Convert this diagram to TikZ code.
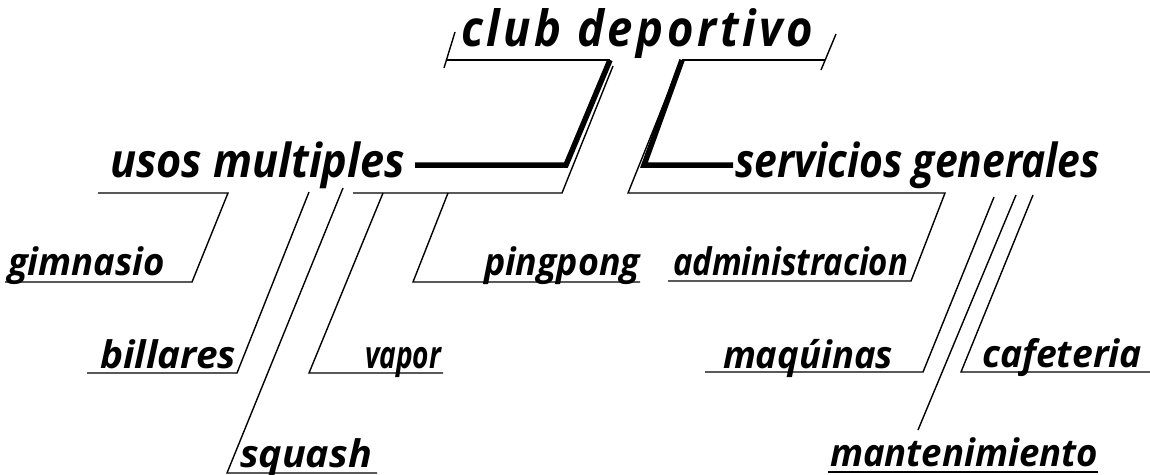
\documentclass[tikz,border=0pt]{standalone}
\usepackage{fontspec}
\setmainfont{Open Sans}
\usepackage{graphicx}
\newcommand\fitw[2]{\resizebox{#1}{\height}{#2}}
\begin{document}
\begin{tikzpicture}[x=1pt,y=-1pt,
  ln/.style={line width=1.4pt, line join=miter},
  heavy/.style={line width=5.5pt, line join=miter},
  lab/.style={anchor=base west, inner sep=0pt, outer sep=0pt, font=\bfseries\itshape},
  big/.style={lab, font=\bfseries\itshape\fontsize{47}{47}\selectfont},
  small/.style={lab, font=\bfseries\itshape\fontsize{38}{38}\selectfont}]
\useasboundingbox (0,0) rectangle (1150,474);

% ---------- labels ----------
\node[lab, font=\bfseries\itshape\fontsize{50}{50}\selectfont] (club) at (461,46) {\fitw{352pt}{\addfontfeature{LetterSpace=8}club deportivo}};
\node[big] (usos) at (110,177) {\fitw{295pt}{usos multiples}};
\node[big] (serv) at (735,177) {\fitw{365pt}{servicios generales}};
\node[small] (gim) at (8,275) {\fitw{157pt}{gimnasio}};
\node[small] (bill) at (100,368) {\fitw{136pt}{billares}};
\node[small] (squa) at (240,467) {\fitw{132pt}{squash}};
\node[small] (vap) at (365,368) {\fitw{76pt}{vapor}};
\node[small] (ping) at (484,275) {\fitw{156pt}{pingpong}};
\node[small] (adm) at (673,275) {\fitw{235pt}{administracion}};
\node[small] (maq) at (723,368) {\fitw{170pt}{maqúinas}};
\node[small] (caf) at (982,367) {\fitw{160pt}{cafeteria}};
\node[small] (mant) at (830,466) {\fitw{268pt}{mantenimiento}};

% ---------- points ----------
\coordinate (cuL) at (447,60);  \coordinate (cuM) at (610,60);
\coordinate (cuN) at (682,60);  \coordinate (cuR) at (825,60);
\coordinate (tL1) at (444,68);  \coordinate (tL2) at (455,32);
\coordinate (tR1) at (821,70);  \coordinate (tR2) at (836,34);
\coordinate (k2) at (566,165);  \coordinate (k3) at (415,165);
\coordinate (m1) at (613,66);   \coordinate (m2) at (562,193);  \coordinate (m3) at (353,193);
\coordinate (v1) at (383,193);  \coordinate (v2) at (309,373);  \coordinate (v3) at (443,373);
\coordinate (p1) at (448,193);  \coordinate (p2) at (413,282);  \coordinate (p3) at (640,282);
\coordinate (g1) at (98,193);   \coordinate (g2) at (228,193);  \coordinate (g3) at (192,282);  \coordinate (g4) at (5,282);
\coordinate (b1) at (309,192);  \coordinate (b2) at (237,373);  \coordinate (b3) at (87,373);
\coordinate (s1) at (343,188);  \coordinate (s2) at (227,473);  \coordinate (s3) at (377,473);
\coordinate (r2) at (644,165);  \coordinate (r3) at (733,165);
\coordinate (n1) at (679,66);   \coordinate (n2) at (628,193);  \coordinate (n3) at (945,193);
\coordinate (n4) at (911,281);  \coordinate (n5) at (668,281);
\coordinate (q1) at (994,197);  \coordinate (q2) at (923,372);  \coordinate (q3) at (705,372);
\coordinate (t1) at (1016,195); \coordinate (t2) at (918,430);
\coordinate (t3) at (828,472);  \coordinate (t4) at (1098,472);
\coordinate (c1) at (1033,195); \coordinate (c2) at (961,372);  \coordinate (c3) at (1150,372);

% ---------- title underline ----------
\draw[ln] (cuL) -- (cuM);
\draw[ln] (cuN) -- (cuR);
\draw[ln] (tL1) -- (tL2);
\draw[ln] (tR1) -- (tR2);

% ---------- heavy links ----------
\draw[heavy] (cuM) -- (k2) -- (k3);
\draw[heavy] (cuN) -- (r2) -- (r3);

% ---------- left branch ----------
\draw[ln] (m1) -- (m2) -- (m3);
\draw[ln] (v1) -- (v2) -- (v3);
\draw[ln] (p1) -- (p2) -- (p3);
\draw[ln] (g1) -- (g2) -- (g3) -- (g4);
\draw[ln] (b1) -- (b2) -- (b3);
\draw[ln] (s1) -- (s2) -- (s3);

% ---------- right branch ----------
\draw[ln] (n1) -- (n2) -- (n3) -- (n4) -- (n5);
\draw[ln] (q1) -- (q2) -- (q3);
\draw[ln] (t1) -- (t2);
\draw[ln] (t3) -- (t4);
\draw[ln] (c1) -- (c2) -- (c3);
\end{tikzpicture}
\end{document}
